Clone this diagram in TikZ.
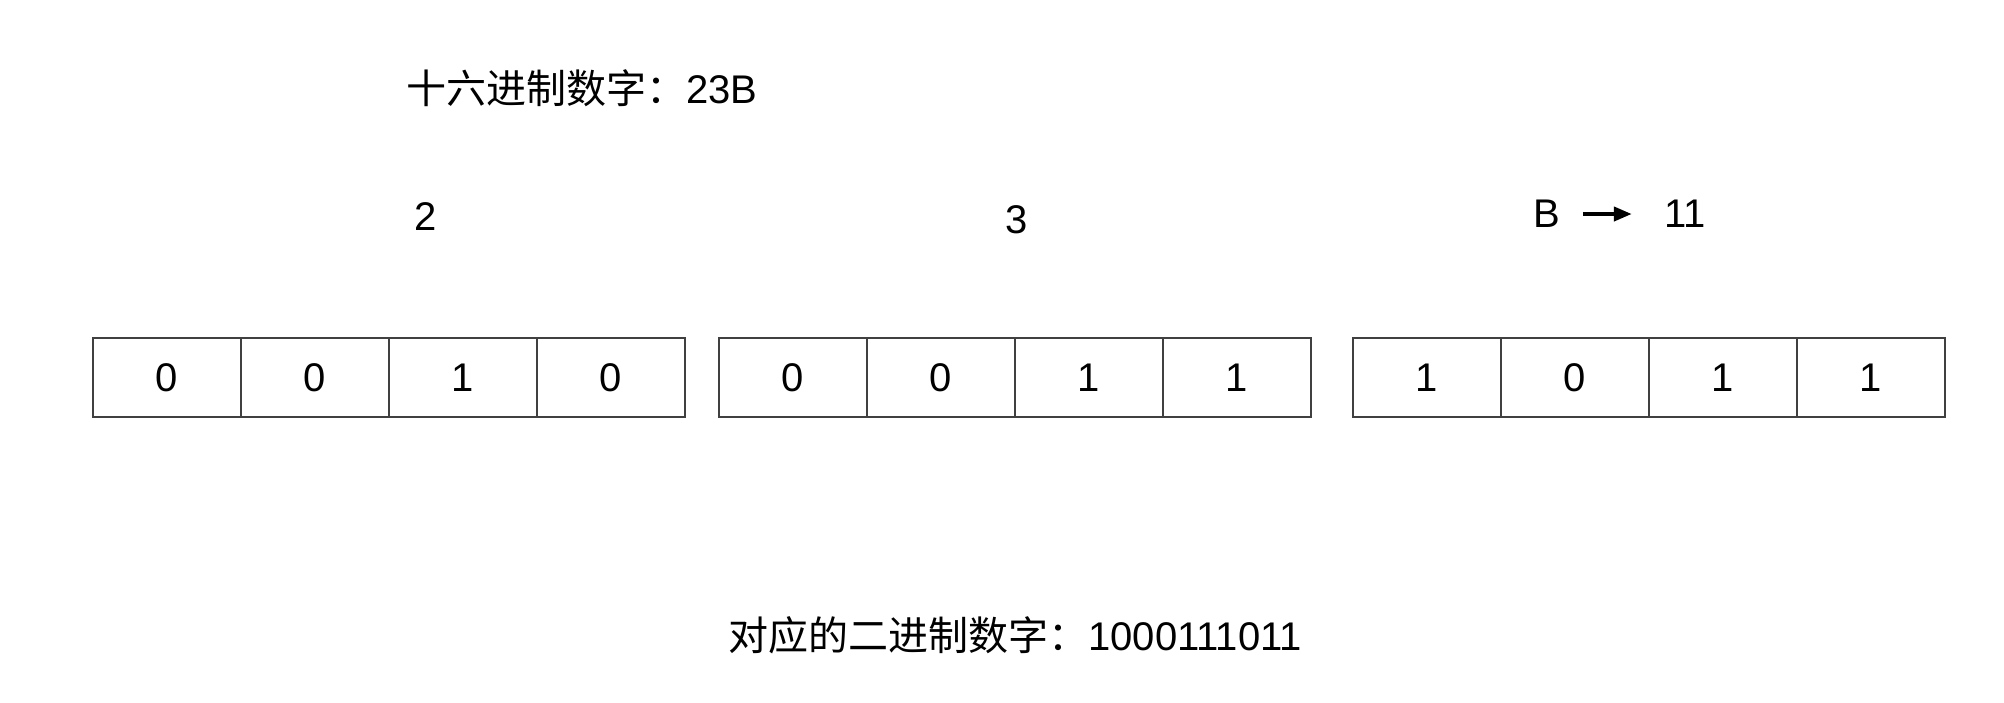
\documentclass[tikz,border=0pt]{standalone}
\usepackage{fontspec}
\setmainfont{Liberation Sans}
\newfontfamily\cjk{Noto Sans CJK SC}
\usetikzlibrary{arrows.meta,positioning}

\begin{document}
\begin{tikzpicture}[x=0.5pt, y=-0.5pt, font=\fontsize{20pt}{24pt}\selectfont,
    bitcell/.style={rectangle, draw=black!75, line width=1pt, minimum width=74pt, minimum height=39.5pt, inner sep=0pt, outer sep=0pt},
    txt/.style={inner sep=0pt}]
    \useasboundingbox (0,0) rectangle (2004,702);

    % Title
    \node[txt, anchor=west] (hex) at (406,88) {{\cjk 十六进制数字：}23B};

    % Hex digits
    \node[txt] (hexa) at (426,217) {2};
    \node[txt] (hexb) at (1017,220) {3};
    \node[txt] (hexc) at (1547,214) {B};
    \node[txt] (dec) at (1685,214) {11};
    \draw[-{Triangle[length=9pt, width=7pt]}, line width=2pt, shorten <=11pt, shorten >=16pt] (hexc.east) -- (dec.west);

    % Bits
    \foreach \xs/\bits [count=\g] in {93/{0,0,1,0}, 719/{0,0,1,1}, 1353/{1,0,1,1}} {
        \foreach \b [count=\c] in \bits {
            \node[bitcell] (g\g c\c) at ({\xs+74+148*(\c-1)},377.5) {\b};
        }
    }

    % Result
    \node[txt, anchor=west] (bin) at (728,635) {{\cjk 对应的二进制数字：}1000111011};
\end{tikzpicture}
\end{document}
